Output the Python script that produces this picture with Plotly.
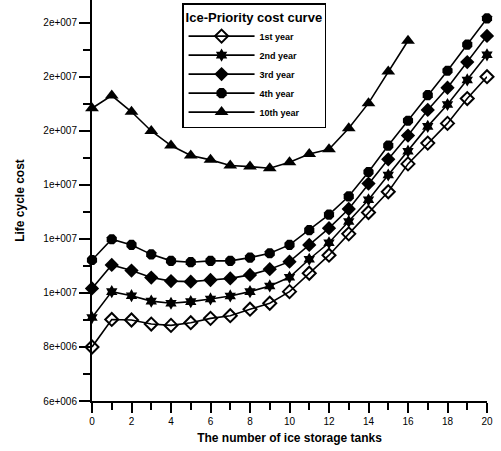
import plotly.graph_objects as go

tanks = list(range(21))
tanks_10th = list(range(17))

year1 = [8.0, 9.02, 9.0, 8.85, 8.8, 8.9, 9.06, 9.16, 9.4, 9.62, 10.05, 10.73, 11.4, 12.19, 12.98, 13.75, 14.78, 15.55, 16.28, 17.2, 18.01]
year2 = [9.09, 10.05, 9.9, 9.7, 9.62, 9.68, 9.78, 9.89, 10.05, 10.26, 10.58, 11.25, 11.86, 12.65, 13.45, 14.37, 15.25, 16.17, 16.98, 17.89, 18.82]
year3 = [10.17, 11.04, 10.83, 10.57, 10.44, 10.42, 10.48, 10.54, 10.67, 10.88, 11.16, 11.78, 12.4, 13.11, 14.05, 14.95, 15.83, 16.78, 17.6, 18.55, 19.52]
year4 = [11.22, 11.99, 11.78, 11.43, 11.19, 11.14, 11.19, 11.19, 11.31, 11.47, 11.78, 12.33, 12.9, 13.58, 14.48, 15.46, 16.38, 17.33, 18.23, 19.2, 20.17]
year10 = [16.84, 17.31, 16.71, 16.0, 15.46, 15.09, 14.93, 14.72, 14.68, 14.62, 14.84, 15.15, 15.32, 16.1, 17.03, 18.2, 19.34]

series_names = ["1st year", "2nd year", "3rd year", "4th year", "10th year"]
y_tickvals = [6e6, 8e6, 10e6, 12e6, 14e6, 16e6, 18e6, 20e6]
y_ticktext = ["6e+006", "8e+006", "1e+007", "1e+007", "1e+007", "2e+007", "2e+007", "2e+007"]
x_tickvals = [0, 2, 4, 6, 8, 10, 12, 14, 16, 18, 20]

FONT = "Liberation Sans, Arial, sans-serif"

fig = go.Figure()
specs = [
    (tanks, year1, "diamond-open", 10),
    (tanks, year2, "hexagram", 10),
    (tanks, year3, "diamond", 11),
    (tanks, year4, "octagon", 11),
    (tanks_10th, year10, "triangle-up", 12),
]
for name, (xs, ys, sym, sz) in zip(series_names, specs):
    fig.add_trace(go.Scatter(
        x=xs, y=[v * 1e6 for v in ys], name="<b>" + name + "</b>", mode="lines+markers",
        line=dict(color="black", width=1.6),
        marker=dict(symbol=sym, size=sz, color="black",
                    line=dict(color="black", width=2 if sym.endswith("open") else 0)),
        cliponaxis=False,
    ))

fig.update_layout(
    width=501, height=451,
    margin=dict(l=92, r=14, t=0, b=50),
    paper_bgcolor="white", plot_bgcolor="white",
    font=dict(family=FONT, color="black", size=10),
    showlegend=True,
    legend=dict(
        x=0.228, y=0.992, xanchor="left", yanchor="top",
        bordercolor="black", borderwidth=1.5, bgcolor="white",
        title=dict(text="<b>Ice-Priority cost curve</b>", font=dict(size=13, family=FONT)),
        font=dict(size=9, family=FONT),
        tracegroupgap=0, itemwidth=66,
    ),
    xaxis=dict(
        range=[0, 20], tickvals=x_tickvals, ticks="outside", ticklen=10, tickwidth=1.5,
        tickcolor="black", showline=True, linecolor="black", linewidth=2,
        showgrid=False, zeroline=False, tickfont=dict(size=10),
        minor=dict(dtick=1, ticks="outside", ticklen=7, tickwidth=1.5, tickcolor="black"),
        title=dict(text="<b>The number of ice storage tanks</b>", font=dict(size=12), standoff=8),
    ),
    yaxis=dict(
        range=[6e6, 20.85e6], tickvals=y_tickvals, ticktext=y_ticktext, ticks="outside",
        ticklen=11, tickwidth=1.5, tickcolor="black", showline=True, linecolor="black",
        linewidth=2, showgrid=False, zeroline=False, tickfont=dict(size=10),
        minor=dict(tick0=7e6, dtick=2e6, ticks="outside", ticklen=7, tickwidth=1.5, tickcolor="black"),
        title=dict(text="<b>Life cycle cost</b>", font=dict(size=12), standoff=16),
    ),
)

fig.write_html("out.html")
